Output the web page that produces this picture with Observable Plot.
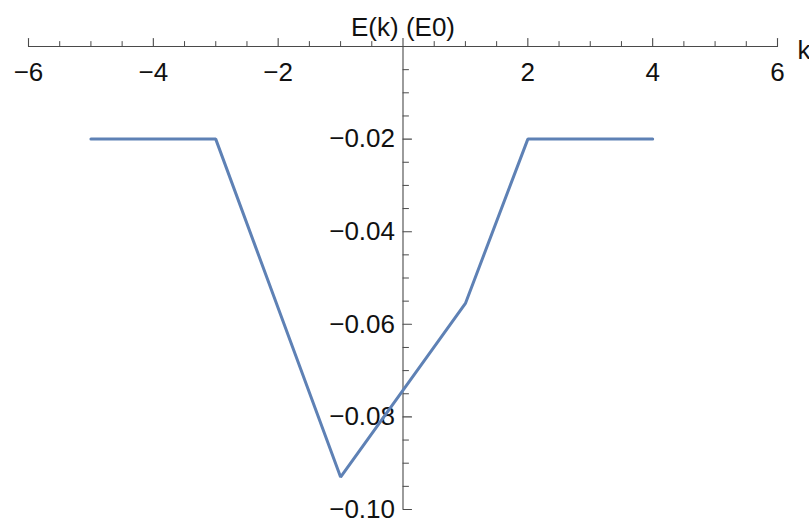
<!DOCTYPE html>
<html>
<head>
<meta charset="utf-8">
<script src="https://cdn.jsdelivr.net/npm/d3@7"></script>
<script src="https://cdn.jsdelivr.net/npm/@observablehq/plot@0.6"></script>
<style>
  html, body { margin: 0; padding: 0; background: #fff; }
  #chart svg { display: block; }
</style>
</head>
<body>
<div id="chart"></div>
<script>
// Data
const kValues = [-5, -3, -1, 1, 2, 4];
const eValues = [-0.02, -0.02, -0.093, -0.0555, -0.02, -0.02];

// Tick definitions
const xMajorTicks = [-6, -4, -2, 2, 4, 6];
const xMinorTicks = [-5.5, -5, -4.5, -3.5, -3, -2.5, -1.5, -1, -0.5, 0.5, 1, 1.5, 2.5, 3, 3.5, 4.5, 5, 5.5];
const yMajorTicks = [-0.02, -0.04, -0.06, -0.08, -0.10];
const yMinorTicks = [-0.005, -0.01, -0.015, -0.025, -0.03, -0.035, -0.045, -0.05, -0.055, -0.065, -0.07, -0.075, -0.085, -0.09, -0.095];

const xLabel = "k";
const yLabel = "E(k) (E0)";

const data = kValues.map((k, i) => ({k, e: eValues[i]}));

const xDomain = [-6, 6];
const yDomain = [-0.10, 0.00173];

const axisColor = "#4a4a4a";
const textColor = "#111";
const font = "'Liberation Sans', Arial, sans-serif";
const fs = 26;

const lineShape = {
  draw(context, l) {
    context.moveTo(0, 0);
    context.lineTo(0, -l);
  }
};

const fmt = v => (v < 0 ? "\u2212" : "") + Math.abs(v).toString();
const fmtY = v => (v < 0 ? "\u2212" : "") + Math.abs(v).toFixed(2);

const chart = Plot.plot({
  width: 809,
  height: 525,
  marginLeft: 28,
  marginRight: 32,
  marginTop: 38,
  marginBottom: 16,
  style: {fontFamily: font, background: "#fff", overflow: "visible"},
  x: {domain: xDomain, axis: null},
  y: {domain: yDomain, axis: null},
  marks: [
    // axes lines
    Plot.ruleY([0], {x1: xDomain[0], x2: xDomain[1], stroke: axisColor, strokeWidth: 1.1}),
    Plot.ruleX([0], {y1: yDomain[1], y2: yDomain[0], stroke: axisColor, strokeWidth: 1.1}),
    // x ticks
    Plot.vector(xMajorTicks, {x: d => d, y: () => 0, length: 8, rotate: 0, anchor: "start", shape: lineShape, stroke: axisColor, strokeWidth: 1.1}),
    Plot.vector(xMinorTicks, {x: d => d, y: () => 0, length: 5, rotate: 0, anchor: "start", shape: lineShape, stroke: axisColor, strokeWidth: 1}),
    // y ticks
    Plot.vector(yMajorTicks, {x: () => 0, y: d => d, length: 8.5, rotate: 90, anchor: "start", shape: lineShape, stroke: axisColor, strokeWidth: 1.1}),
    Plot.vector(yMinorTicks, {x: () => 0, y: d => d, length: 5.5, rotate: 90, anchor: "start", shape: lineShape, stroke: axisColor, strokeWidth: 1}),
    // tick labels
    Plot.text(xMajorTicks, {x: d => d, y: () => 0, text: fmt, dy: 26, fontSize: fs, fill: textColor, fontFamily: font}),
    Plot.text(yMajorTicks, {x: () => 0, y: d => d, text: fmtY, dx: -8, textAnchor: "end", fontSize: fs, fill: textColor, fontFamily: font}),
    // axis labels
    Plot.text([yLabel], {x: () => 0, frameAnchor: "top", text: d => d, dy: -21, fontSize: fs, fill: textColor, fontFamily: font}),
    Plot.text([xLabel], {x: () => xDomain[1], y: () => 0, text: d => d, dx: 20, dy: 4, textAnchor: "start", fontSize: fs, fill: textColor, fontFamily: font}),
    // data line
    Plot.line(data, {x: "k", y: "e", stroke: "#5E81B5", strokeWidth: 3, strokeLinejoin: "miter"})
  ]
});

document.getElementById("chart").appendChild(chart);
</script>
</body>
</html>
